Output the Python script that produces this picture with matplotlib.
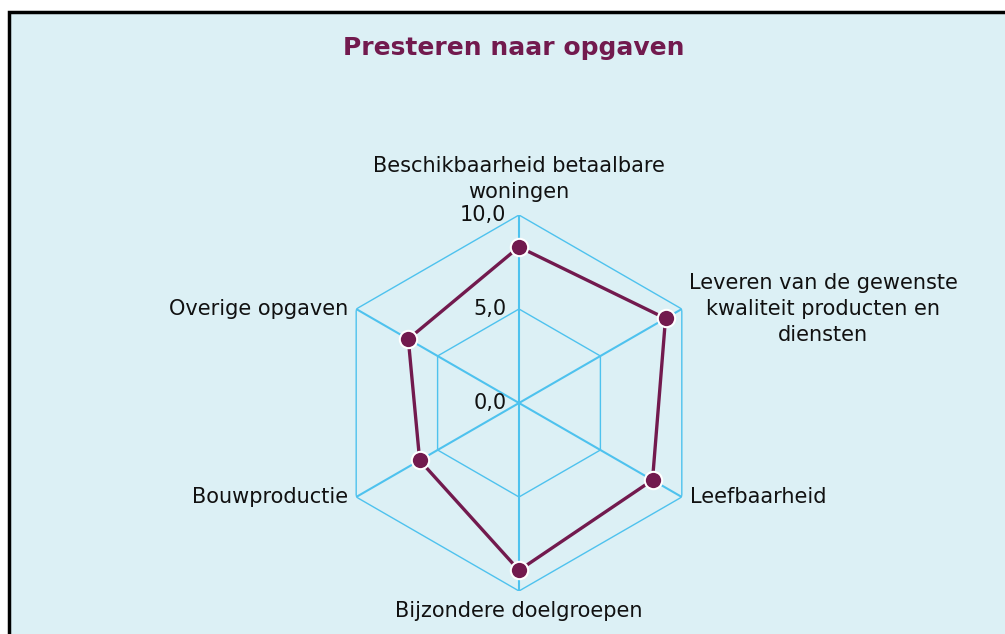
import matplotlib.pyplot as plt
import numpy as np
from matplotlib.patches import Rectangle

# data
categories = ['Beschikbaarheid betaalbare\nwoningen',
              'Leveren van de gewenste\nkwaliteit producten en\ndiensten',
              'Leefbaarheid',
              'Bijzondere doelgroepen',
              'Bouwproductie',
              'Overige opgaven']
scores = [8.3, 9.0, 8.2, 8.9, 6.1, 6.8]
rings = [5.0, 10.0]
ring_labels = ['0,0', '5,0', '10,0']
ring_label_vals = [0.0, 5.0, 10.0]

purple = '#721a4e'
grid_col = '#4ec2ee'
bg = '#dcf0f5'
fs = 15

fig = plt.figure(figsize=(10.05, 6.34), dpi=100)
fig.patch.set_facecolor('white')

# panel background with black border on left/top
bax = fig.add_axes([0, 0, 1, 1], zorder=-5)
bax.set_axis_off()
bax.set_xlim(0, 1)
bax.set_ylim(0, 1)
bax.add_patch(Rectangle((9 / 1005, -0.1), 1.2, 1.1 - 12 / 634,
                        facecolor=bg, edgecolor='black', linewidth=2.5))

fig.text(0.511, 1 - 48 / 634, 'Presteren naar opgaven', ha='center', va='center',
         fontsize=18, fontweight='bold', color=purple)

ax = fig.add_axes([331 / 1005, 43 / 634, 376 / 1005, 376 / 634], projection='polar')
ax.set_theta_offset(np.pi / 2)
ax.set_theta_direction(-1)
ax.set_ylim(0, 10)
ax.patch.set_visible(False)
ax.spines['polar'].set_visible(False)
ax.grid(False)
ax.set_xticks([])
ax.set_yticks([])

n = len(categories)
angles = np.linspace(0, 2 * np.pi, n, endpoint=False)
closed = np.append(angles, angles[0])

# hexagonal grid
for r in rings:
    ax.plot(closed, [r] * (n + 1), color=grid_col, lw=1.0, zorder=1)
for a in angles:
    ax.plot([a, a], [0, 10], color=grid_col, lw=1.5, zorder=1)

# series
vals = scores + scores[:1]
ax.plot(closed, vals, color=purple, lw=2.4, zorder=3)
ax.plot(angles, scores, 'o', color=purple, markersize=12.5, markeredgecolor='white',
        markeredgewidth=1.5, zorder=4)

# ring labels
for v, lab in zip(ring_label_vals, ring_labels):
    ax.annotate(lab, xy=(0, v), xytext=(-9, 0), textcoords='offset points',
                ha='right', va='center', fontsize=fs, color='#111111')

# category labels
offsets = [((0, 9), 'center', 'bottom'),
           ((5, 0), 'left', 'center'),
           ((6, 0), 'left', 'center'),
           ((0, -7), 'center', 'top'),
           ((-6, 0), 'right', 'center'),
           ((-6, 0), 'right', 'center')]
for a, lab, (off, ha, va) in zip(angles, categories, offsets):
    ax.annotate(lab, xy=(a, 10), xytext=off, textcoords='offset points',
                ha=ha, va=va, multialignment='center', fontsize=fs,
                color='#111111', linespacing=1.4)

fig.savefig('out.png', dpi=100)
